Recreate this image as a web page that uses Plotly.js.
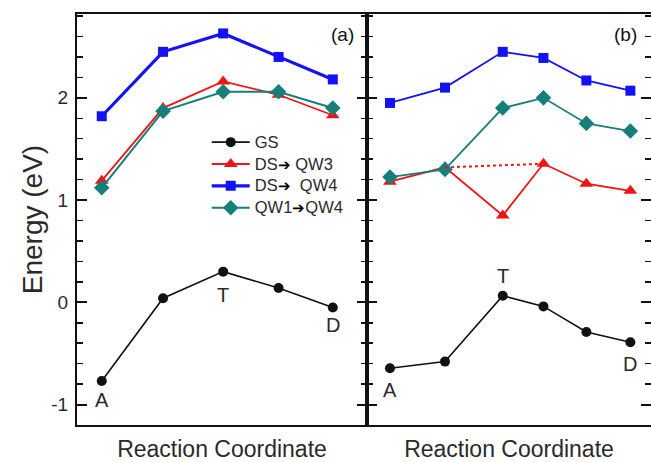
<!DOCTYPE html>
<html>
<head>
<meta charset="utf-8">
<script src="https://cdn.plot.ly/plotly-3.0.1.min.js"></script>
<style>html,body{margin:0;padding:0;overflow:hidden;background:#fff;}</style>
</head>
<body>
<div id="chart" style="width:651px;height:462px;"></div>
<script>
// Panel (a)
const xA = [0, 1.04, 2.06, 3.0, 3.92];
const gsA = [-0.77, 0.04, 0.30, 0.14, -0.05];
const qw3A = [1.19, 1.90, 2.16, 2.03, 1.83];
const qw4A = [1.82, 2.45, 2.63, 2.40, 2.18];
const qw14A = [1.12, 1.87, 2.06, 2.06, 1.90];
// Panel (b)
const xB = [0, 1.0, 2.05, 2.79, 3.57, 4.37];
const gsB = [-0.645, -0.58, 0.065, -0.04, -0.29, -0.39];
const qw3B = [1.18, 1.32, 0.85, 1.355, 1.16, 1.09];
const qw4B = [1.95, 2.10, 2.45, 2.39, 2.17, 2.07];
const qw14B = [1.225, 1.30, 1.90, 2.00, 1.75, 1.675];
// dotted connection in panel (b): from point 2 to point 4 of DS->QW3
const dotIdx = [1, 3];
const arrow = '<span style="color:#000;font-size:15px">➔</span>';
const seriesNames = ['GS', 'DS' + arrow + ' QW3', 'DS' + arrow + '  QW4', 'QW1' + arrow + 'QW4'];
const pointLabels = ['A', 'T', 'D'];
const yTickVals = [-1, 0, 1, 2];
const yTickText = ['-1', '0', '1', '2'];

const cBlack = '#111111', cRed = '#f21414', cBlue = '#1212f5', cTeal = '#15807a';

function big(s) { return '<span style="font-size:16.5px">' + s + '</span>'; }

function tr(x, y, name, color, sym, msize, lw, xa, showleg) {
  return {x: x, y: y, name: big(name), type: 'scatter', mode: 'lines+markers',
    xaxis: xa, yaxis: xa === 'x' ? 'y' : 'y2', showlegend: showleg,
    line: {color: color, width: lw}, marker: {color: color, symbol: sym, size: msize}};
}

const data = [
  tr(xA, gsA, seriesNames[0], cBlack, 'circle', 10, 1.6, 'x', true),
  tr(xA, qw3A, seriesNames[1], cRed, 'triangle-up', 12, 1.8, 'x', true),
  tr(xA, qw4A, seriesNames[2], cBlue, 'square', 10, 3.2, 'x', true),
  tr(xA, qw14A, seriesNames[3], cTeal, 'diamond', 12, 2, 'x', true),
  tr(xB, gsB, seriesNames[0], cBlack, 'circle', 10, 1.6, 'x2', false),
  tr(xB, qw3B, seriesNames[1], cRed, 'triangle-up', 12, 1.8, 'x2', false),
  tr(xB, qw4B, seriesNames[2], cBlue, 'square', 10, 1.8, 'x2', false),
  tr(xB, qw14B, seriesNames[3], cTeal, 'diamond', 12, 1.8, 'x2', false),
  {x: dotIdx.map(i => xB[i]), y: dotIdx.map(i => qw3B[i]), type: 'scatter', mode: 'lines',
   xaxis: 'x2', yaxis: 'y2', showlegend: false, line: {color: cRed, width: 2, dash: 'dot'}}
];

const font = 'Liberation Sans, Arial, sans-serif';
const txt = '#2a2a2a';

const xbase = {showticklabels: false, ticks: '', showline: true, mirror: true, linewidth: 2,
  linecolor: '#111', zeroline: false, showgrid: false,
  title: {text: 'Reaction Coordinate', font: {size: 23, color: txt}, standoff: 18}};
const ybase = {range: [-1.2, 2.82], tickvals: yTickVals, ticktext: yTickText, ticks: 'inside', ticklen: 10, tickwidth: 2,
  tickcolor: '#111', showline: true, mirror: 'ticks', linewidth: 2, linecolor: '#111',
  zeroline: false, showgrid: false,
  minor: {dtick: 0.2, tick0: 0, ticks: 'inside', ticklen: 6, tickwidth: 1.5, tickcolor: '#111', showgrid: false}};

function lbl(x, y, t, xr) {
  return {x: x, y: y, xref: xr, yref: 'y', text: t, showarrow: false, font: {size: 20, color: txt}};
}

const layout = {
  width: 651, height: 462,
  margin: {l: 77, r: 0, t: 14, b: 37},
  paper_bgcolor: '#fff', plot_bgcolor: '#fff',
  font: {family: font, color: txt},
  showlegend: true,
  legend: {x: 0.226, y: 0.727, xanchor: 'left', yanchor: 'top', bgcolor: 'rgba(0,0,0,0)',
    font: {size: 14.5, color: txt}, tracegroupgap: 0, itemwidth: 38},
  xaxis: Object.assign({}, xbase, {domain: [0, 0.5052], range: [-0.42, 4.5]}),
  xaxis2: Object.assign({}, xbase, {domain: [0.5052, 1], range: [-0.418, 4.745], anchor: 'y2'}),
  yaxis: Object.assign({}, ybase, {showticklabels: true, tickfont: {size: 19, color: txt},
    ticklabelstandoff: 3,
    title: {text: 'Energy (eV)', font: {size: 28, color: txt}, standoff: 0}}),
  yaxis2: Object.assign({}, ybase, {anchor: 'x2', showticklabels: false}),
  annotations: [
    lbl(xA[0], -0.96, pointLabels[0], 'x'),
    lbl(xA[2], 0.07, pointLabels[1], 'x'),
    lbl(xA[4], -0.225, pointLabels[2], 'x'),
    lbl(xB[0], -0.86, pointLabels[0], 'x2'),
    lbl(xB[2], 0.26, pointLabels[1], 'x2'),
    lbl(xB[5], -0.6, pointLabels[2], 'x2'),
    {x: 0.462, y: 0.949, xref: 'paper', yref: 'paper', xanchor: 'center', yanchor: 'middle', text: '(a)', showarrow: false, font: {size: 19, color: '#111'}},
    {x: 0.955, y: 0.949, xref: 'paper', yref: 'paper', xanchor: 'center', yanchor: 'middle', text: '(b)', showarrow: false, font: {size: 19, color: '#111'}}
  ]
};

Plotly.newPlot('chart', data, layout, {displayModeBar: false, staticPlot: true});
</script>
</body>
</html>
